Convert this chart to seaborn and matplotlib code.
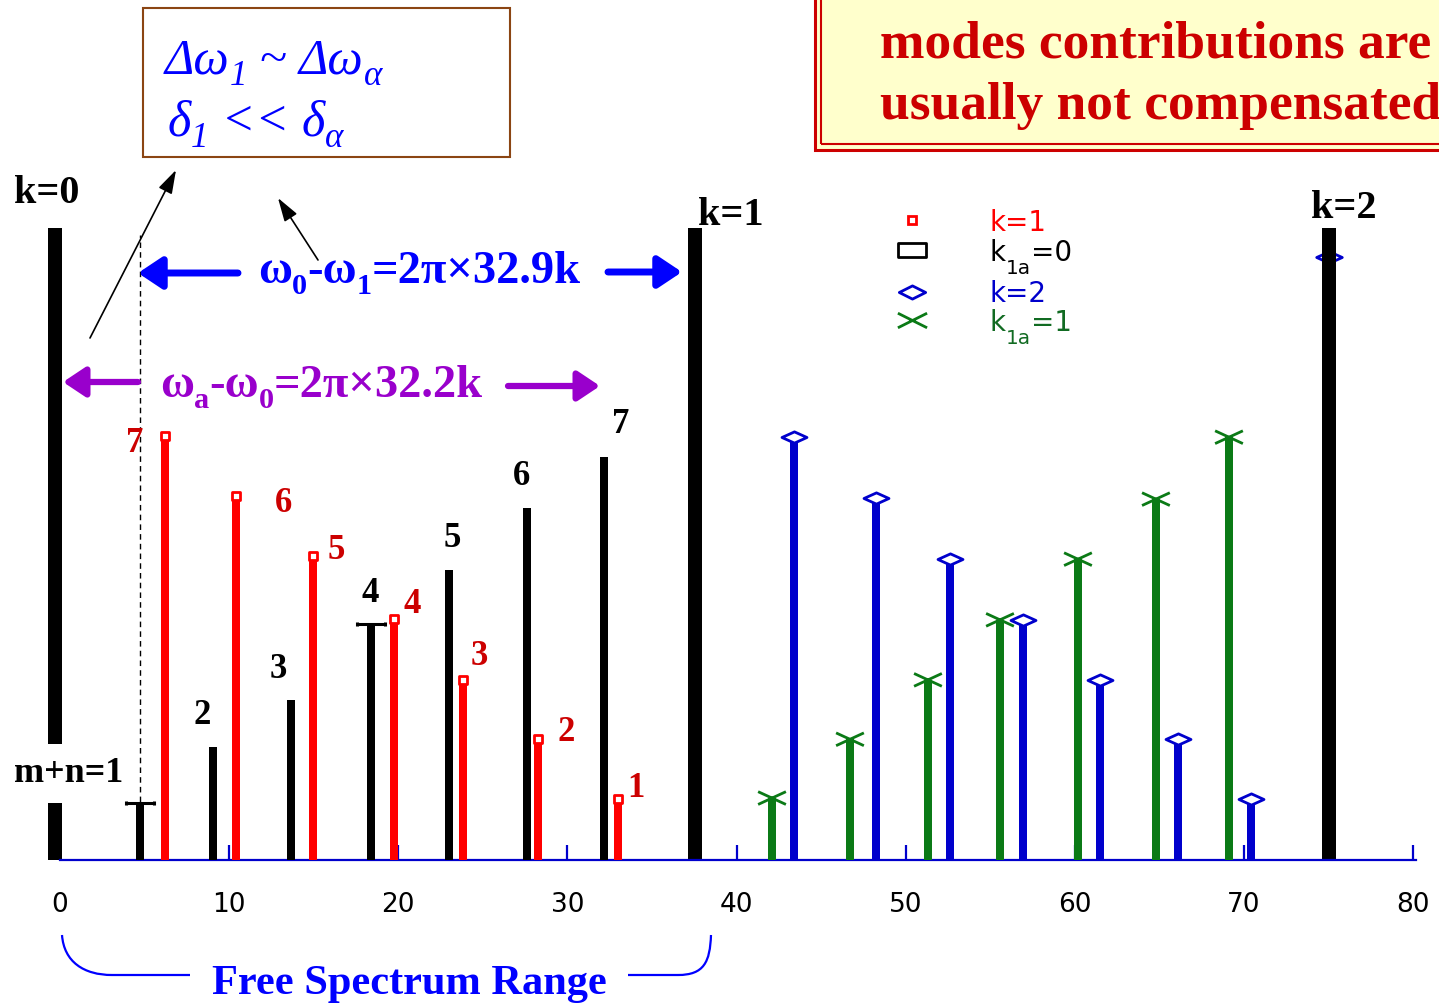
import matplotlib
matplotlib.use("Agg")
import numpy as np
import pandas as pd
import matplotlib.pyplot as plt
import seaborn as sns
from matplotlib.path import Path
from matplotlib.markers import MarkerStyle
from matplotlib.patches import Rectangle, PathPatch, FancyArrowPatch
from matplotlib.lines import Line2D

# ---------------- data ----------------
carrier_pos = [-0.3, 37.55, 75.03]          # k=0, k=1, k=2 carriers
carrier_height = [100.0, 100.0, 100.0]
carrier_labels = ["k=0", "k=1", "k=2"]

k1a0_pos = [4.73, 9.05, 13.66, 18.39, 23.0, 27.61, 32.14]      # black, k1a=0
k1a0_height = [9.0, 17.9, 25.3, 37.3, 45.9, 55.7, 63.8]
k1a0_mode = ["1", "2", "3", "4", "5", "6", "7"]

k1_pos = [6.21, 10.41, 14.96, 19.75, 23.83, 28.26, 32.99]       # red, k=1
k1_height = [67.1, 57.6, 48.1, 38.1, 28.5, 19.1, 9.7]
k1_mode = ["7", "6", "5", "4", "3", "2", "1"]

k2_pos = [43.4, 48.25, 52.62, 56.94, 61.49, 66.1, 70.42]        # blue, k=2
k2_height = [66.9, 57.3, 47.6, 38.0, 28.5, 19.1, 9.7]

k1a1_pos = [42.1, 46.71, 51.32, 55.58, 60.19, 64.8, 69.12]      # green, k1a=1
k1a1_height = [9.8, 19.1, 28.5, 38.0, 47.6, 57.1, 66.9]

k2_carrier_mark_height = 95.4
x_ticks = [0, 10, 20, 30, 40, 50, 60, 70, 80]

# ---------------- layout ----------------
W, H = 1439, 1005
X0, SX = 60.0, 16.9125     # pixel of x=0, pixels per unit
BASE, SY = 860.0, 6.32     # baseline pixel row, pixels per y unit

BLACK = "black"
RED = "#FF0000"
RED_LBL = "#CC0000"
BLUE_BAR = "#0000CC"
BLUE_TXT = "#0000FF"
GREEN = "#0B7A16"
GREEN_TXT = "#116B22"
PURPLE = "#9900CC"
BROWN = "#8B4513"
SERIF = "Liberation Serif"
SANS = "DejaVu Sans"

sns.set_theme(style="white")
plt.rcParams["font.family"] = [SERIF, "DejaVu Sans"]

fig = plt.figure(figsize=(W / 100, H / 100), dpi=100)
renderer = fig.canvas.get_renderer()


def F(px, py):
    return (px / W, 1 - py / H)


def Ydat(py):
    return (BASE - py) / SY


ax = fig.add_axes([0, (H - BASE) / H, 1, BASE / H])
ax.set_xlim(-X0 / SX, (W - X0) / SX)
ax.set_ylim(0, BASE / SY)
ax.patch.set_alpha(0)

TALL_W = 14.5 / SX
THIN_W = 8.0 / SX

ax.bar(carrier_pos, carrier_height, width=TALL_W, color=BLACK, zorder=2, linewidth=0)
ax.bar(k1a0_pos, k1a0_height, width=THIN_W, color=BLACK, zorder=4, linewidth=0)
ax.bar(k1_pos, k1_height, width=THIN_W, color=RED, zorder=4, linewidth=0)
ax.bar(k2_pos, k2_height, width=THIN_W, color=BLUE_BAR, zorder=4, linewidth=0)
ax.bar(k1a1_pos, k1a1_height, width=THIN_W, color=GREEN, zorder=4, linewidth=0)

# markers
diamond = MarkerStyle(Path([(-1, 0), (0, 0.45), (1, 0), (0, -0.45), (-1, 0)],
                           [Path.MOVETO, Path.LINETO, Path.LINETO, Path.LINETO, Path.CLOSEPOLY]))
xmark = MarkerStyle(Path([(-1, -0.46), (1, 0.46), (-1, 0.46), (1, -0.46)],
                         [Path.MOVETO, Path.LINETO, Path.MOVETO, Path.LINETO]))
ibeam = MarkerStyle(Path([(-1, 0), (1, 0), (-1, -0.14), (-1, 0.14), (1, -0.14), (1, 0.14)],
                         [Path.MOVETO, Path.LINETO, Path.MOVETO, Path.LINETO,
                          Path.MOVETO, Path.LINETO]))

df_k1 = pd.DataFrame({"x": k1_pos, "y": k1_height})
df_k2 = pd.DataFrame({"x": k2_pos, "y": k2_height})
df_g = pd.DataFrame({"x": k1a1_pos, "y": k1a1_height})
shown = [0, 3]
df_b = pd.DataFrame({"x": [k1a0_pos[i] for i in shown], "y": [k1a0_height[i] for i in shown]})

sns.scatterplot(data=df_k1, x="x", y="y", marker="s", s=30, facecolor="white",
                edgecolor=RED, linewidth=2, ax=ax, zorder=5, clip_on=False)
sns.scatterplot(data=df_k2, x="x", y="y", marker=diamond, s=324, facecolor="white",
                edgecolor=BLUE_BAR, linewidth=2, ax=ax, zorder=5, clip_on=False)
sns.scatterplot(data=df_g, x="x", y="y", marker=xmark, s=400, facecolor="none",
                edgecolor=GREEN, linewidth=2, ax=ax, zorder=5, clip_on=False)
sns.scatterplot(data=df_b, x="x", y="y", marker=ibeam, s=420, facecolor="none",
                edgecolor=BLACK, linewidth=2.2, ax=ax, zorder=5, clip_on=False)
sns.scatterplot(x=[carrier_pos[2]], y=[k2_carrier_mark_height], marker=diamond, s=340,
                facecolor="white", edgecolor=BLUE_BAR, linewidth=2, ax=ax, zorder=1.5)

# dashed marker line at the first k1a=0 mode
ax.plot([k1a0_pos[0], k1a0_pos[0]], [0, Ydat(235)], color=BLACK, lw=1,
        ls=(0, (4, 3)), zorder=5)

# mode labels
black_off = [(-11, 31), (-13, 31), (-1, 31), (3, 31), (-5, 31), (17, 32)]
for (dx, dy), xv, yv, lab in zip(black_off, k1a0_pos[1:], k1a0_height[1:], k1a0_mode[1:]):
    ax.annotate(lab, (xv, yv), xytext=(dx, dy), textcoords="offset pixels",
                ha="center", va="center", fontsize=25, fontweight="bold",
                family=SERIF, color=BLACK, zorder=6)
red_off = [(-30, -8), (47, -8), (23, 6), (18, 15), (16, 23), (28, 7), (18, 10)]
for (dx, dy), xv, yv, lab in zip(red_off, k1_pos, k1_height, k1_mode):
    ax.annotate(lab, (xv, yv), xytext=(dx, dy), textcoords="offset pixels",
                ha="center", va="center", fontsize=25, fontweight="bold",
                family=SERIF, color=RED_LBL, zorder=6)

# axis styling
for s in ["left", "top", "right"]:
    ax.spines[s].set_visible(False)
ax.spines["bottom"].set_color(BLUE_BAR)
ax.spines["bottom"].set_linewidth(1.6)
ax.spines["bottom"].set_bounds(0, 80.15)
ax.set_yticks([])
ax.set_xticks(x_ticks)
ax.set_xticklabels([str(t) for t in x_ticks], fontsize=19, family=SANS)
ax.tick_params(axis="x", direction="in", length=11, width=1.6, color=BLUE_BAR,
               labelcolor=BLACK, pad=23, bottom=True)
ax.set_xlabel("")
ax.set_ylabel("")

# "m+n=1" label masking the k=0 carrier
ax.text(14 / W, 1 - 782 / H, "m+n=1", transform=fig.transFigure, fontsize=26,
        fontweight="bold", family=SERIF, color=BLACK, va="baseline", ha="left", zorder=3,
        bbox=dict(boxstyle="square,pad=0.35", fc="white", ec="none"))

# carrier labels
for lab, (px, py) in zip(carrier_labels, [(14, 203), (698, 225), (1311, 218)]):
    fig.text(*F(px, py), lab, fontsize=29, fontweight="bold", family=SERIF,
             color=BLACK, va="baseline", ha="left")


def runs(px, py, parts, size, color, **kw):
    x = px
    for s, sc, dy in parts:
        t = fig.text(x / W, 1 - (py + dy) / H, s, fontsize=size * sc, color=color,
                     va="baseline", ha="left", **kw)
        x += t.get_window_extent(renderer).width
    return x


# formulas
runs(258, 283, [("ω", 1, 0), ("0", 0.65, 11), ("-ω", 1, 0), ("1", 0.65, 11),
                ("=2π×32.9k", 1, 0)], 33.5, BLUE_TXT, family=SERIF, fontweight="bold")
runs(160, 397, [("ω", 1, 0), ("a", 0.65, 11), ("-ω", 1, 0), ("0", 0.65, 11),
                ("=2π×32.2k", 1, 0)], 33.5, PURPLE, family=SERIF, fontweight="bold")

# top-left box
fig.add_artist(Rectangle(F(143, 157), (510 - 143) / W, (157 - 8) / H, transform=fig.transFigure,
                         facecolor="white", edgecolor=BROWN, lw=1.5, zorder=1))
runs(165, 73, [("Δω", 1, 0), ("1", 0.7, 12), (" ~ ", 1, 0), ("Δω", 1, 0), ("α", 0.7, 12)],
     36, BLUE_TXT, family=SERIF, style="italic")
runs(168, 135, [("δ", 1, 0), ("1", 0.7, 12), (" << ", 1, 0), ("δ", 1, 0), ("α", 0.7, 12)],
     36, BLUE_TXT, family=SERIF, style="italic")

# top-right box
fig.add_artist(Rectangle(F(815, 150), (1460 - 815) / W, 160 / H, transform=fig.transFigure,
                         facecolor="#FFFFCC", edgecolor=RED_LBL, lw=2.2, zorder=1))
fig.add_artist(Rectangle(F(821, 144), (1460 - 821) / W, 160 / H, transform=fig.transFigure,
                         facecolor="none", edgecolor=RED_LBL, lw=1.5, zorder=1))
fig.text(*F(880, 57), "modes contributions are", fontsize=38.5, fontweight="bold",
         family=SERIF, color=RED_LBL, va="baseline", ha="left")
fig.text(*F(880, 119), "usually not compensated", fontsize=38.5, fontweight="bold",
         family=SERIF, color=RED_LBL, va="baseline", ha="left")


# arrows
def arrow(p0, p1, color, lw, hl, hw, ms):
    fig.add_artist(FancyArrowPatch(F(*p0), F(*p1), transform=fig.transFigure,
                                   arrowstyle=f"-|>,head_length={hl},head_width={hw}",
                                   mutation_scale=ms, lw=lw, color=color,
                                   shrinkA=0, shrinkB=0, zorder=4))


arrow((238, 273), (138, 273), BLUE_TXT, 5, 0.45, 0.3, 32)
arrow((608, 272), (682, 272), BLUE_TXT, 5, 0.45, 0.3, 32)
arrow((138, 382), (63, 382), PURPLE, 4.5, 0.45, 0.3, 30)
arrow((508, 386), (600, 386), PURPLE, 4.5, 0.45, 0.3, 30)
arrow((90, 338), (176, 170), BLACK, 1.2, 0.8, 0.25, 18)
arrow((318, 260), (278, 198), BLACK, 1.2, 0.8, 0.25, 18)

# legend
leg_rect = MarkerStyle(Path([(-1, -0.5), (1, -0.5), (1, 0.5), (-1, 0.5), (-1, -0.5)],
                            [Path.MOVETO, Path.LINETO, Path.LINETO, Path.LINETO, Path.CLOSEPOLY]))
leg_diam = MarkerStyle(Path([(-1, 0), (0, 0.5), (1, 0), (0, -0.5), (-1, 0)],
                            [Path.MOVETO, Path.LINETO, Path.LINETO, Path.LINETO, Path.CLOSEPOLY]))
leg_x = MarkerStyle(Path([(-1, -0.5), (1, 0.5), (-1, 0.5), (1, -0.5)],
                         [Path.MOVETO, Path.LINETO, Path.MOVETO, Path.LINETO]))
leg_items = [(220, "s", 5.5, RED, 2), (250, leg_rect, 20, BLACK, 2),
             (292, leg_diam, 19, BLUE_BAR, 2), (320, leg_x, 21, GREEN, 2)]
for py, mk, ms, col, lw in leg_items:
    fig.add_artist(Line2D([912 / W], [1 - py / H], transform=fig.transFigure, marker=mk,
                          markersize=ms, markerfacecolor="white" if col != GREEN else "none",
                          markeredgecolor=col, markeredgewidth=lw, linestyle="none"))
runs(990, 231, [("k=1", 1, 0)], 20, RED, family=SANS)
runs(990, 261, [("k", 1, 0), ("1a", 0.72, 13), ("=0", 1, 0)], 20, BLACK, family=SANS)
runs(990, 302, [("k=2", 1, 0)], 20, BLUE_BAR, family=SANS)
runs(990, 331, [("k", 1, 0), ("1a", 0.72, 13), ("=1", 1, 0)], 20, GREEN_TXT, family=SANS)

# free spectrum range bracket
left = Path([F(62, 935), F(64, 962), F(84, 975), F(112, 975), F(190, 975)],
            [Path.MOVETO, Path.CURVE4, Path.CURVE4, Path.CURVE4, Path.LINETO])
right = Path([F(628, 975), F(678, 975), F(704, 975), F(710, 962), F(711, 935)],
             [Path.MOVETO, Path.LINETO, Path.CURVE4, Path.CURVE4, Path.CURVE4])
for pth in (left, right):
    fig.add_artist(PathPatch(pth, transform=fig.transFigure, facecolor="none",
                             edgecolor=BLUE_TXT, lw=1.6))
fig.text(*F(409, 994), "Free Spectrum Range", fontsize=30.5, fontweight="bold",
         family=SERIF, color=BLUE_TXT, va="baseline", ha="center")

fig.savefig("out.png", dpi=100)
